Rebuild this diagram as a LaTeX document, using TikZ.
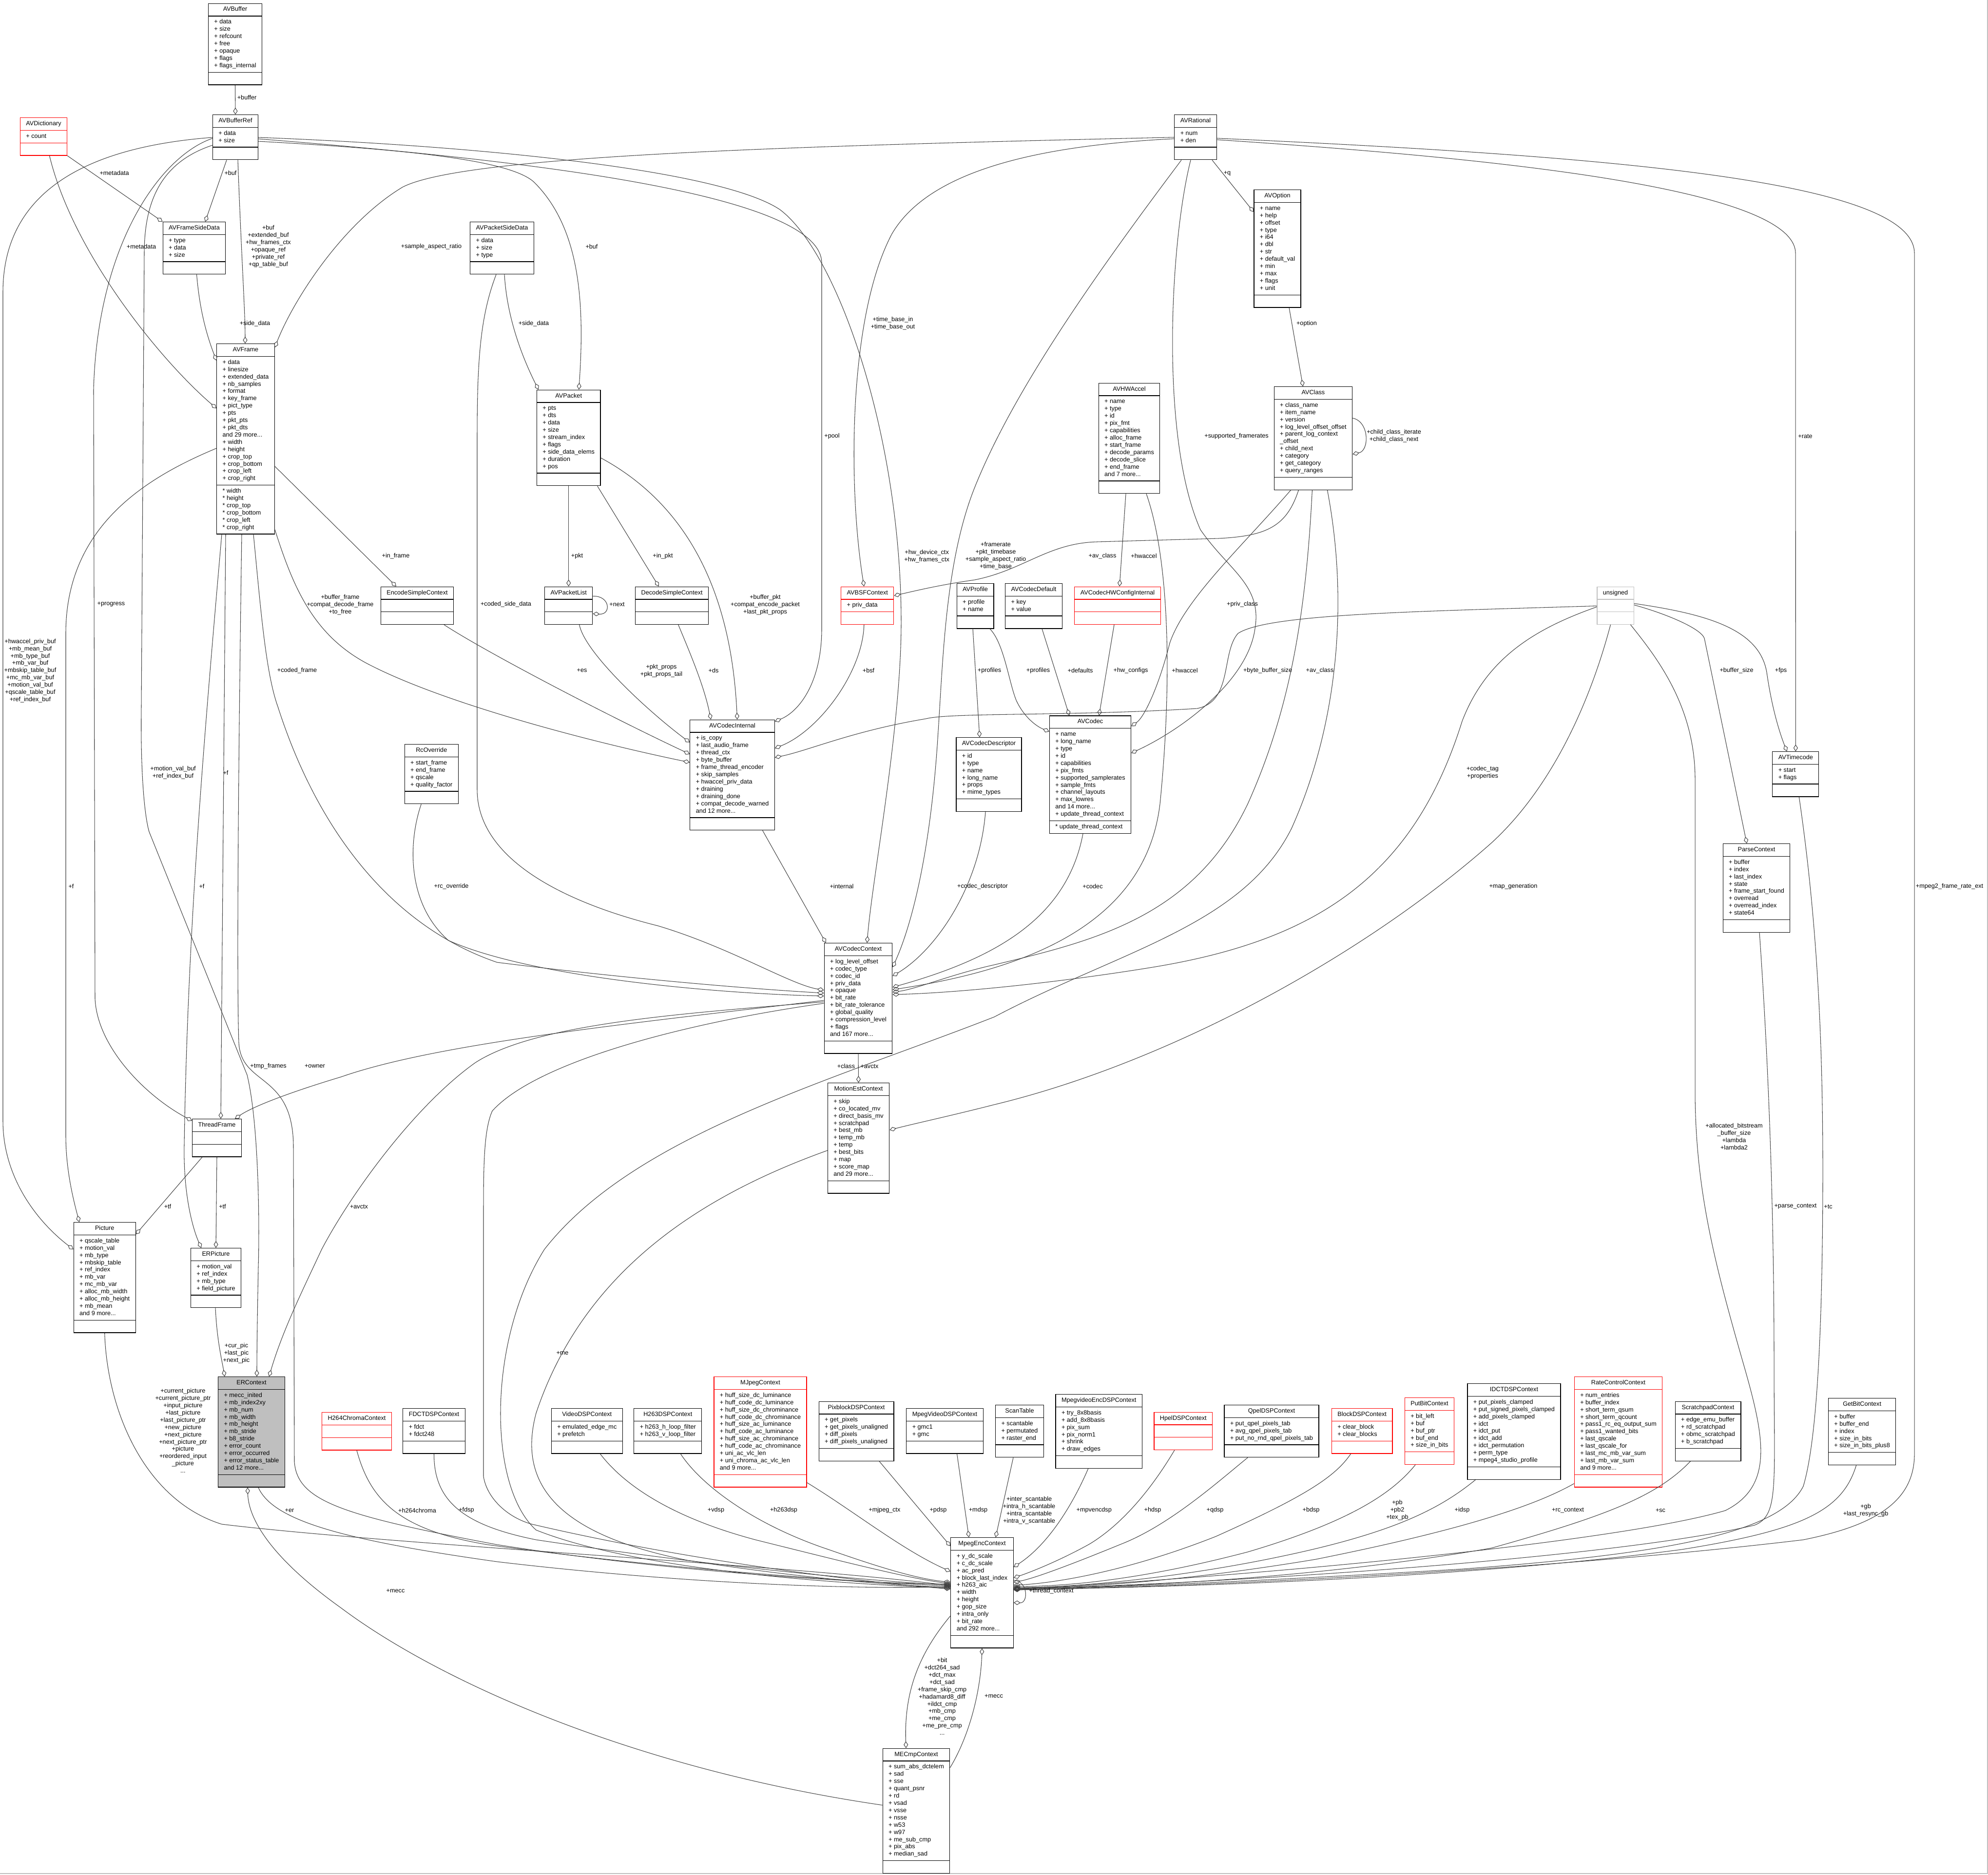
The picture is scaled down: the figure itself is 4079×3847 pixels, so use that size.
\documentclass[tikz,border=0pt]{standalone}
\usepackage{fontspec}
\setmainfont{Liberation Sans}
\usetikzlibrary{shapes.multipart,arrows.meta}
\definecolor{edgegray}{HTML}{404040}
\definecolor{boxgray}{HTML}{BFBFBF}
\newcommand{\dxfont}{\fontsize{3.6}{4.24}\selectfont}
\newcommand{\classbox}[3]{\strut#1\nodepart{two}\strut#2\strut\nodepart{three}\strut#3\strut}

\begin{document}
\begin{tikzpicture}[x=0.01cm, y=-0.01cm,
  cls/.style={rectangle split, rectangle split parts=3, draw=black, line width=0.35pt,
    fill=white, font=\dxfont, align=left, inner xsep=3.4pt, inner ysep=1.37pt,
    rectangle split empty part height=2.97pt, rectangle split empty part depth=1.27pt,
    rectangle split part align={center,left,left}, anchor=north},
  redcls/.style={cls, draw=red},
  link/.style={draw=edgegray, line width=0.3pt, -{Diamond[open,length=4pt,width=2.6pt]}},
  lbl/.style={font=\dxfont, align=center, inner sep=0pt}]
\useasboundingbox (0,0) rectangle (4079,3847);
% Frame
\draw[boxgray] (4078,0) -- (4078,3845) -- (0,3845);

% Classes
\node[cls] (AVBuffer) at (482.5,6.5) {\classbox{AVBuffer}{+ data\\+ size\\+ refcount\\+ free\\+ opaque\\+ flags\\+ flags\_internal}{}};
\node[cls] (AVBufferRef) at (483,235) {\classbox{AVBufferRef}{+ data\\+ size}{}};
\node[redcls] (AVDictionary) at (89.5,241) {\classbox{AVDictionary}{+ count}{}};
\node[cls] (AVFrameSideData) at (398.5,455) {\classbox{AVFrameSideData}{+ type\\+ data\\+ size}{}};
\node[cls] (AVPacketSideData) at (1030,455) {\classbox{AVPacketSideData}{+ data\\+ size\\+ type}{}};
\node[cls] (AVFrame) at (504,705) {\classbox{AVFrame}{+ data\\+ linesize\\+ extended\_data\\+ nb\_samples\\+ format\\+ key\_frame\\+ pict\_type\\+ pts\\+ pkt\_pts\\+ pkt\_dts\\and 29 more...\\+ width\\+ height\\+ crop\_top\\+ crop\_bottom\\+ crop\_left\\+ crop\_right}{* width\\{}* height\\{}* crop\_top\\{}* crop\_bottom\\{}* crop\_left\\{}* crop\_right}};
\node[cls] (AVPacket) at (1166.7,799.6) {\classbox{AVPacket}{+ pts\\+ dts\\+ data\\+ size\\+ stream\_index\\+ flags\\+ side\_data\_elems\\+ duration\\+ pos}{}};
\node[cls] (EncodeSimpleContext) at (856,1203.5) {\classbox{EncodeSimpleContext}{}{}};
\node[cls] (AVPacketList) at (1166.7,1203.5) {\classbox{AVPacketList}{}{}};
\node[cls] (DecodeSimpleContext) at (1378.7,1203.5) {\classbox{DecodeSimpleContext}{}{}};
\node[redcls] (AVBSFContext) at (1779.8,1203.5) {\classbox{AVBSFContext}{+ priv\_data}{}};
\node[cls] (AVProfile) at (2001,1197) {\classbox{AVProfile}{+ profile\\+ name}{}};
\node[cls] (AVCodecDefault) at (2121,1197) {\classbox{AVCodecDefault}{+ key\\+ value}{}};
\node[redcls] (AVCodecHWConfigInternal) at (2293,1203.5) {\classbox{AVCodecHWConfigInternal}{}{}};
\node[cls, draw=boxgray] (Unsigned) at (3314.5,1203.5) {\classbox{unsigned}{}{}};
\node[cls] (AVRational) at (2453,235) {\classbox{AVRational}{+ num\\+ den}{}};
\node[cls] (AVOption) at (2621,389) {\classbox{AVOption}{+ name\\+ help\\+ offset\\+ type\\+ i64\\+ dbl\\+ str\\+ default\_val\\+ min\\+ max\\+ flags\\+ unit}{}};
\node[cls] (AVHWAccel) at (2317,785.7) {\classbox{AVHWAccel}{+ name\\+ type\\+ id\\+ pix\_fmt\\+ capabilities\\+ alloc\_frame\\+ start\_frame\\+ decode\_params\\+ decode\_slice\\+ end\_frame\\and 7 more...}{}};
\node[cls] (AVClass) at (2694.4,793) {\classbox{AVClass}{+ class\_name\\+ item\_name\\+ version\\+ log\_level\_offset\_offset\\+ parent\_log\_context\\\_offset\\+ child\_next\\+ category\\+ get\_category\\+ query\_ranges}{}};
\node[cls] (AVCodecInternal) at (1502.6,1476.6) {\classbox{AVCodecInternal}{+ is\_copy\\+ last\_audio\_frame\\+ thread\_ctx\\+ byte\_buffer\\+ frame\_thread\_encoder\\+ skip\_samples\\+ hwaccel\_priv\_data\\+ draining\\+ draining\_done\\+ compat\_decode\_warned\\and 12 more...}{}};
\node[cls] (AVCodecDescriptor) at (2029,1513) {\classbox{AVCodecDescriptor}{+ id\\+ type\\+ name\\+ long\_name\\+ props\\+ mime\_types}{}};
\node[cls] (AVCodec) at (2237,1468.4) {\classbox{AVCodec}{+ name\\+ long\_name\\+ type\\+ id\\+ capabilities\\+ pix\_fmts\\+ supported\_samplerates\\+ sample\_fmts\\+ channel\_layouts\\+ max\_lowres\\and 14 more...\\+ update\_thread\_context}{* update\_thread\_context}};
\node[cls] (RcOverride) at (885.3,1527) {\classbox{RcOverride}{+ start\_frame\\+ end\_frame\\+ qscale\\+ quality\_factor}{}};
\node[cls] (AVTimecode) at (3684.3,1542) {\classbox{AVTimecode}{+ start\\+ flags}{}};
\node[cls] (ParseContext) at (3604,1731) {\classbox{ParseContext}{+ buffer\\+ index\\+ last\_index\\+ state\\+ frame\_start\_found\\+ overread\\+ overread\_index\\+ state64}{}};
\node[cls] (AVCodecContext) at (1761,1935) {\classbox{AVCodecContext}{+ log\_level\_offset\\+ codec\_type\\+ codec\_id\\+ priv\_data\\+ opaque\\+ bit\_rate\\+ bit\_rate\_tolerance\\+ global\_quality\\+ compression\_level\\+ flags\\and 167 more...}{}};
\node[cls] (MotionEstContext) at (1761.5,2222) {\classbox{MotionEstContext}{+ skip\\+ co\_located\_mv\\+ direct\_basis\_mv\\+ scratchpad\\+ best\_mb\\+ temp\_mb\\+ temp\\+ best\_bits\\+ map\\+ score\_map\\and 29 more...}{}};
\node[cls] (ThreadFrame) at (445,2296) {\classbox{ThreadFrame}{}{}};
\node[cls] (Picture) at (214.7,2508) {\classbox{Picture}{+ qscale\_table\\+ motion\_val\\+ mb\_type\\+ mbskip\_table\\+ ref\_index\\+ mb\_var\\+ mc\_mb\_var\\+ alloc\_mb\_width\\+ alloc\_mb\_height\\+ mb\_mean\\and 9 more...}{}};
\node[cls] (ERPicture) at (443,2561) {\classbox{ERPicture}{+ motion\_val\\+ ref\_index\\+ mb\_type\\+ field\_picture}{}};
\node[cls, fill=boxgray] (ERContext) at (516,2825) {\classbox{ERContext}{+ mecc\_inited\\+ mb\_index2xy\\+ mb\_num\\+ mb\_width\\+ mb\_height\\+ mb\_stride\\+ b8\_stride\\+ error\_count\\+ error\_occurred\\+ error\_status\_table\\and 12 more...}{}};
\node[redcls] (H264ChromaContext) at (732,2898) {\classbox{H264ChromaContext}{}{}};
\node[cls] (FDCTDSPContext) at (890.5,2890) {\classbox{FDCTDSPContext}{+ fdct\\+ fdct248}{}};
\node[cls] (VideoDSPContext) at (1204.3,2890) {\classbox{VideoDSPContext}{+ emulated\_edge\_mc\\+ prefetch}{}};
\node[cls] (H263DSPContext) at (1370.3,2890) {\classbox{H263DSPContext}{+ h263\_h\_loop\_filter\\+ h263\_v\_loop\_filter}{}};
\node[redcls] (MJpegContext) at (1560,2825) {\classbox{MJpegContext}{+ huff\_size\_dc\_luminance\\+ huff\_code\_dc\_luminance\\+ huff\_size\_dc\_chrominance\\+ huff\_code\_dc\_chrominance\\+ huff\_size\_ac\_luminance\\+ huff\_code\_ac\_luminance\\+ huff\_size\_ac\_chrominance\\+ huff\_code\_ac\_chrominance\\+ uni\_ac\_vlc\_len\\+ uni\_chroma\_ac\_vlc\_len\\and 9 more...}{}};
\node[cls] (PixblockDSPContext) at (1757,2875.5) {\classbox{PixblockDSPContext}{+ get\_pixels\\+ get\_pixels\_unaligned\\+ diff\_pixels\\+ diff\_pixels\_unaligned}{}};
\node[cls] (MpegVideoDSPContext) at (1938.5,2890) {\classbox{MpegVideoDSPContext}{+ gmc1\\+ gmc}{}};
\node[cls] (MpegEncContext) at (2015,3155) {\classbox{MpegEncContext}{+ y\_dc\_scale\\+ c\_dc\_scale\\+ ac\_pred\\+ block\_last\_index\\+ h263\_aic\\+ width\\+ height\\+ gop\_size\\+ intra\_only\\+ bit\_rate\\and 292 more...}{}};
\node[cls] (ScanTable) at (2092,2883) {\classbox{ScanTable}{+ scantable\\+ permutated\\+ raster\_end}{}};
\node[cls] (MpegvideoEncDSPContext) at (2254.7,2861) {\classbox{MpegvideoEncDSPContext}{+ try\_8x8basis\\+ add\_8x8basis\\+ pix\_sum\\+ pix\_norm1\\+ shrink\\+ draw\_edges}{}};
\node[redcls] (HpelDSPContext) at (2427.8,2897.6) {\classbox{HpelDSPContext}{}{}};
\node[cls] (QpelDSPContext) at (2609,2883) {\classbox{QpelDSPContext}{+ put\_qpel\_pixels\_tab\\+ avg\_qpel\_pixels\_tab\\+ put\_no\_rnd\_qpel\_pixels\_tab}{}};
\node[redcls] (BlockDSPContext) at (2794.6,2890) {\classbox{BlockDSPContext}{+ clear\_block\\+ clear\_blocks}{}};
\node[redcls] (PutBitContext) at (2933,2868) {\classbox{PutBitContext}{+ bit\_left\\+ buf\\+ buf\_ptr\\+ buf\_end\\+ size\_in\_bits}{}};
\node[cls] (IDCTDSPContext) at (3106.4,2839) {\classbox{IDCTDSPContext}{+ put\_pixels\_clamped\\+ put\_signed\_pixels\_clamped\\+ add\_pixels\_clamped\\+ idct\\+ idct\_put\\+ idct\_add\\+ idct\_permutation\\+ perm\_type\\+ mpeg4\_studio\_profile}{}};
\node[redcls] (RateControlContext) at (3320.5,2825) {\classbox{RateControlContext}{+ num\_entries\\+ buffer\_index\\+ short\_term\_qsum\\+ short\_term\_qcount\\+ pass1\_rc\_eq\_output\_sum\\+ pass1\_wanted\_bits\\+ last\_qscale\\+ last\_qscale\_for\\+ last\_mc\_mb\_var\_sum\\+ last\_mb\_var\_sum\\and 9 more...}{}};
\node[cls] (ScratchpadContext) at (3504.5,2875.5) {\classbox{ScratchpadContext}{+ edge\_emu\_buffer\\+ rd\_scratchpad\\+ obmc\_scratchpad\\+ b\_scratchpad}{}};
\node[cls] (GetBitContext) at (3820.6,2869) {\classbox{GetBitContext}{+ buffer\\+ buffer\_end\\+ index\\+ size\_in\_bits\\+ size\_in\_bits\_plus8}{}};
\node[cls] (MECmpContext) at (1880,3587.6) {\classbox{MECmpContext}{+ sum\_abs\_dctelem\\+ sad\\+ sse\\+ quant\_psnr\\+ rd\\+ vsad\\+ vsse\\+ nsse\\+ w53\\+ w97\\+ me\_sub\_cmp\\+ pix\_abs\\+ median\_sad}{}};

% Top part
\draw[link] (AVBuffer.south) -- (AVBufferRef.north);
\draw[link] ([shift={(-18,0)}]AVBufferRef.south) -- ([shift={(22.5,0)}]AVFrameSideData.north);
\draw[link] ([shift={(5,0)}]AVBufferRef.south) .. controls (495,520) and (503,640) .. ([shift={(-1,0)}]AVFrame.north);
\draw[link] (AVDictionary.south east) -- (AVFrameSideData.north west);
\draw[link] ([shift={(12,0)}]AVDictionary.south) .. controls (150,520) and (330,740) .. ([shift={(0,133)}]AVFrame.north west);
\draw[link] ([shift={(5,0)}]AVFrameSideData.south) .. controls (410,640) and (425,690) .. ([shift={(0,35)}]AVFrame.north west);
\draw[link] (AVRational.west) .. controls (1600,300) and (950,320) .. (826,384) .. controls (700,460) and (600,620) .. ([shift={(0,8)}]AVFrame.north east);
\draw[link] ([shift={(0,55)}]AVBufferRef.north east) .. controls (800,305) and (1050,325) .. (1098,376) .. controls (1190,470) and (1200,620) .. ([shift={(21,0)}]AVPacket.north);
\draw[link] ([shift={(5,0)}]AVPacketSideData.south) .. controls (1040,650) and (1070,730) .. ([shift={(4,0)}]AVPacket.north west);
\draw[link] (AVPacket.south) -- (AVPacketList.north);
\draw[link] ([shift={(0,20)}]AVPacketList.north east) .. controls (1252,1222) and (1255,1262) .. ([shift={(0,56)}]AVPacketList.north east);
\draw[link] ([shift={(59,0)}]AVPacket.south) -- ([shift={(-27,0)}]DecodeSimpleContext.north);

% AVCodecInternal
\draw[link] ([shift={(0,140)}]AVPacket.north east) .. controls (1400,1030) and (1500,1200) .. ([shift={(10,0)}]AVCodecInternal.north);
\draw[link] ([shift={(13,0)}]DecodeSimpleContext.south) .. controls (1420,1350) and (1445,1410) .. ([shift={(-44,0)}]AVCodecInternal.north);
\draw[link] ([shift={(22,0)}]AVPacketList.south) .. controls (1200,1340) and (1330,1460) .. ([shift={(0,47)}]AVCodecInternal.north west);
\draw[link] ([shift={(55,0)}]EncodeSimpleContext.south) .. controls (1000,1340) and (1250,1470) .. ([shift={(0,71)}]AVCodecInternal.north west);
\draw[link] ([shift={(0,-10)}]AVFrame.south east) .. controls (600,1200) and (640,1300) .. (750,1360) .. controls (900,1440) and (1200,1520) .. ([shift={(0,88)}]AVCodecInternal.north west);
\draw[link] ([shift={(0,252)}]AVFrame.north east) -- ([shift={(-43,0)}]EncodeSimpleContext.north);
\draw[link] ([shift={(0,50)}]AVBufferRef.north east) .. controls (1100,330) and (1686,400) .. (1686,540) -- (1686,1290) .. controls (1686,1400) and (1640,1460) .. ([shift={(0,4)}]AVCodecInternal.north east);
\draw[link] ([shift={(-7,0)}]AVBSFContext.south) .. controls (1770,1380) and (1680,1500) .. ([shift={(0,59)}]AVCodecInternal.north east);
\draw[link] ([shift={(0,40)}]Unsigned.north west) .. controls (2900,1255) and (2600,1260) .. (2540,1300) .. controls (2505,1340) and (2530,1440) .. (2456,1454) .. controls (2200,1470) and (1950,1462) .. (1900,1475) .. controls (1750,1500) and (1660,1540) .. ([shift={(0,78)}]AVCodecInternal.north east);

% AVBSFContext
\draw[link] ([shift={(0,3)}]AVRational.west) .. controls (2100,300) and (1900,360) .. (1830,480) .. controls (1740,650) and (1740,1000) .. ([shift={(-7,0)}]AVBSFContext.north);
\draw[link] ([shift={(-30,0)}]AVClass.south) .. controls (2640,1080) and (2600,1100) .. (2500,1105) -- (2250,1112) .. controls (2150,1115) and (2100,1170) .. (2000,1190) .. controls (1930,1200) and (1880,1212) .. ([shift={(0,19)}]AVBSFContext.north east);

% AVCodecContext
\draw[link] ([shift={(0,47)}]AVBufferRef.north east) .. controls (1000,300) and (1480,350) .. (1600,430) .. controls (1720,520) and (1850,900) .. (1849,1282) .. controls (1848,1500) and (1790,1800) .. ([shift={(18,0)}]AVCodecContext.north);
\draw[link] ([shift={(62,0)}]AVCodecInternal.south) -- ([shift={(4,0)}]AVCodecContext.north west);
\draw[link] ([shift={(-12,0)}]AVPacketSideData.south) .. controls (985,650) and (979,740) .. (979,900) -- (979,1620) .. controls (979,1760) and (1150,1850) .. (1350,1900) .. controls (1500,1945) and (1620,2020) .. ([shift={(0,97)}]AVCodecContext.north west);
\draw[link] ([shift={(16,0)}]AVFrame.south) .. controls (535,1250) and (545,1380) .. (570,1450) .. controls (650,1700) and (800,1900) .. (1020,1975) .. controls (1300,2010) and (1550,2030) .. ([shift={(0,103)}]AVCodecContext.north west);
\draw[link] ([shift={(-21,0)}]RcOverride.south) .. controls (840,1720) and (830,1850) .. (920,1930) .. controls (1100,2010) and (1500,2040) .. ([shift={(0,109)}]AVCodecContext.north west);
\draw[link] ([shift={(-29,0)}]AVRational.south) .. controls (2250,560) and (2080,800) .. (2000,1000) .. controls (1940,1150) and (1935,1350) .. (1925,1500) .. controls (1910,1750) and (1870,1900) .. ([shift={(0,50)}]AVCodecContext.north east);
\draw[link] ([shift={(-7,0)}]AVCodecDescriptor.south) .. controls (2010,1820) and (1920,1950) .. ([shift={(0,68)}]AVCodecContext.north east);
\draw[link] ([shift={(-15,0)}]AVCodec.south) .. controls (2190,1880) and (2050,1965) .. ([shift={(0,91)}]AVCodecContext.north east);
\draw[link] ([shift={(35,0)}]AVHWAccel.south) .. controls (2400,1150) and (2405,1400) .. (2380,1650) .. controls (2350,1900) and (2100,1990) .. ([shift={(0,96)}]AVCodecContext.north east);
\draw[link] ([shift={(-2,0)}]AVClass.south) .. controls (2680,1250) and (2650,1450) .. (2560,1650) .. controls (2450,1880) and (2250,1930) .. (2040,1980) .. controls (1950,2000) and (1880,2030) .. ([shift={(0,101)}]AVCodecContext.north east);
\draw[link] ([shift={(0,42)}]Unsigned.north west) .. controls (3150,1290) and (3050,1350) .. (3000,1480) .. controls (2900,1800) and (2700,1930) .. (2365,1985) .. controls (2150,2020) and (1950,2038) .. ([shift={(0,106)}]AVCodecContext.north east);

% AVCodec
\draw[link] ([shift={(-5,0)}]AVProfile.south) -- ([shift={(-19,0)}]AVCodecDescriptor.north);
\draw[link] ([shift={(30,0)}]AVProfile.south) .. controls (2060,1320) and (2070,1400) .. (2085,1437) .. controls (2100,1470) and (2125,1490) .. ([shift={(0,33)}]AVCodec.north west);
\draw[link] ([shift={(17,0)}]AVCodecDefault.south) -- ([shift={(-43,0)}]AVCodec.north);
\draw[link] ([shift={(-7,0)}]AVCodecHWConfigInternal.south) -- ([shift={(18,0)}]AVCodec.north);
\draw[link] ([shift={(-46,0)}]AVClass.south) .. controls (2550,1120) and (2430,1230) .. (2400,1320) .. controls (2380,1400) and (2350,1470) .. ([shift={(0,22)}]AVCodec.north east);
\draw[link] ([shift={(-10,0)}]AVRational.south) .. controls (2400,500) and (2380,900) .. (2463,1087) .. controls (2520,1170) and (2590,1200) .. (2575,1290) .. controls (2560,1400) and (2420,1500) .. ([shift={(0,77)}]AVCodec.north east);
\draw[link] ([shift={(-7,0)}]AVHWAccel.south) -- ([shift={(4,0)}]AVCodecHWConfigInternal.north);

% AVOption, AVClass
\draw[link] ([shift={(34,0)}]AVRational.south) -- ([shift={(0,46)}]AVOption.north west);
\draw[link] ([shift={(24,0)}]AVOption.south) -- ([shift={(-21,0)}]AVClass.north);
\draw[link] ([shift={(0,65)}]AVClass.north east) .. controls (2810,865) and (2810,925) .. ([shift={(0,139)}]AVClass.north east);

% AVTimecode, ParseContext
\draw[link] ([shift={(0,5)}]AVRational.east) .. controls (3000,320) and (3684,380) .. (3684,520) -- (AVTimecode.north);
\draw[link] ([shift={(0,35)}]Unsigned.north east) .. controls (3500,1260) and (3610,1290) .. (3625,1380) .. controls (3635,1450) and (3650,1500) .. ([shift={(-18,0)}]AVTimecode.north);
\draw[link] ([shift={(0,38)}]Unsigned.north east) .. controls (3420,1260) and (3490,1290) .. (3497,1310) -- ([shift={(-20,0)}]ParseContext.north);

% MotionEstContext
\draw[link] (AVCodecContext.south) -- (MotionEstContext.north);
\draw[link] ([shift={(-10,0)}]Unsigned.south) .. controls (3260,1450) and (3180,1620) .. (3060,1730) .. controls (2800,1960) and (2400,2180) .. (2040,2267) .. controls (1950,2290) and (1880,2305) .. ([shift={(0,97)}]MotionEstContext.north east);

% Left part
\draw[link] ([shift={(-41,0)}]AVFrame.south) -- ([shift={(8,0)}]ThreadFrame.north);
\draw[link] ([shift={(0,215)}]AVFrame.north west) .. controls (300,980) and (135,1080) .. (135,1300) -- (135,2330) .. controls (135,2400) and (150,2460) .. ([shift={(-52,0)}]Picture.north);
\draw[link] ([shift={(-49,0)}]AVFrame.south) .. controls (420,1500) and (385,1900) .. (378,2350) .. controls (376,2450) and (395,2520) .. ([shift={(-30,0)}]ERPicture.north);
\draw[link] ([shift={(-30,0)}]ThreadFrame.south) -- ([shift={(0,25)}]Picture.north east);
\draw[link] (ThreadFrame.south) -- (ERPicture.north);
\draw[link] ([shift={(0,47)}]AVBufferRef.north west) .. controls (200,300) and (6,380) .. (6,600) -- (6,2300) .. controls (6,2420) and (80,2510) .. ([shift={(0,56)}]Picture.north west);
\draw[link] ([shift={(0,49)}]AVBufferRef.north west) .. controls (330,320) and (200,500) .. (192,800) -- (195,2050) .. controls (200,2150) and (300,2250) .. ([shift={(0,4)}]ThreadFrame.north west);
\draw[link] ([shift={(0,63)}]AVBufferRef.north west) .. controls (340,330) and (296,400) .. (296,520) -- (290,1450) .. controls (288,1600) and (298,1680) .. (306,1707) -- (507,2206) .. controls (530,2300) and (533,2500) .. (530,2600) .. controls (528,2700) and (527,2780) .. ([shift={(11,0)}]ERContext.north);
\draw[link] ([shift={(-1,0)}]ERPicture.south) .. controls (445,2750) and (455,2790) .. ([shift={(-55,0)}]ERContext.north);
\draw[link] ([shift={(0,121)}]AVCodecContext.north west) .. controls (1400,2080) and (1100,2100) .. (975,2181) .. controls (850,2270) and (720,2450) .. (660,2564) .. controls (620,2650) and (580,2730) .. ([shift={(-33,0)}]ERContext.north east);
\draw[link] ([shift={(0,118)}]AVCodecContext.north west) .. controls (1300,2100) and (900,2140) .. (700,2210) .. controls (600,2240) and (520,2270) .. ([shift={(37,0)}]ThreadFrame.north);
\draw[link] ([shift={(0,117)}]MECmpContext.north west) .. controls (1300,3630) and (900,3450) .. (700,3300) .. controls (560,3200) and (510,3120) .. ([shift={(-8,0)}]ERContext.south);

% MpegEncContext, left side
\draw[link] ([shift={(0,124)}]AVCodecContext.north west) .. controls (1400,2100) and (1100,2180) .. (1010,2280) .. controls (992,2320) and (992,2400) .. (992,2500) -- (992,3030) .. controls (1000,3080) and (1050,3120) .. (1100,3130) .. controls (1400,3200) and (1750,3245) .. ([shift={(0,106)}]MpegEncContext.north west);
\draw[link] ([shift={(-8,0)}]AVFrame.south) .. controls (490,1500) and (485,2000) .. (490,2140) .. controls (495,2230) and (600,2200) .. (602,2350) -- (604,3000) .. controls (610,3080) and (700,3110) .. (1020,3170) .. controls (1400,3230) and (1800,3250) .. ([shift={(0,96)}]MpegEncContext.north west);
\draw[link] (Picture.south) .. controls (220,2900) and (300,3080) .. (455,3128) .. controls (800,3170) and (1600,3210) .. ([shift={(0,99)}]MpegEncContext.north west);
\draw[link] ([shift={(14,0)}]ERContext.south) .. controls (560,3120) and (700,3160) .. (1020,3205) .. controls (1400,3250) and (1750,3262) .. ([shift={(0,101)}]MpegEncContext.north west);
\draw[link] (H264ChromaContext.south) .. controls (760,3080) and (820,3140) .. (1000,3170) .. controls (1400,3225) and (1800,3248) .. ([shift={(0,100)}]MpegEncContext.north west);
\draw[link] (FDCTDSPContext.south) .. controls (890,3080) and (950,3130) .. (1100,3160) .. controls (1500,3220) and (1800,3245) .. ([shift={(0,98)}]MpegEncContext.north west);
\draw[link] ([shift={(27,0)}]VideoDSPContext.south) .. controls (1290,3060) and (1400,3120) .. (1550,3160) .. controls (1750,3210) and (1870,3240) .. ([shift={(0,95)}]MpegEncContext.north west);
\draw[link] ([shift={(26,0)}]H263DSPContext.south) .. controls (1440,3050) and (1550,3130) .. (1700,3180) .. controls (1800,3215) and (1880,3240) .. ([shift={(0,92)}]MpegEncContext.north west);
\draw[link] ([shift={(0,-10)}]MJpegContext.south east) .. controls (1750,3100) and (1850,3180) .. ([shift={(0,70)}]MpegEncContext.north west);
\draw[link] ([shift={(47,0)}]PixblockDSPContext.south) -- ([shift={(0,18)}]MpegEncContext.north west);
\draw[link] ([shift={(25,0)}]MpegVideoDSPContext.south) -- ([shift={(-27,0)}]MpegEncContext.north);
\draw[link] ([shift={(0,139)}]MotionEstContext.north west) .. controls (1450,2450) and (1200,2600) .. (1100,2900) .. controls (1060,3050) and (1150,3150) .. (1410,3202) .. controls (1650,3240) and (1850,3255) .. ([shift={(0,102)}]MpegEncContext.north west);
\draw[link] ([shift={(29,0)}]AVClass.south) .. controls (2770,1250) and (2740,1500) .. (2650,1700) .. controls (2550,1900) and (2300,1950) .. (2040,2087) .. controls (1700,2220) and (1300,2330) .. (1117,2564) .. controls (1000,2750) and (1000,3050) .. (1100,3140) .. controls (1300,3220) and (1700,3250) .. ([shift={(0,104)}]MpegEncContext.north west);

% MpegEncContext, right side
\draw[link] ([shift={(-13,0)}]ScanTable.south) -- ([shift={(-37,0)}]MpegEncContext.north east);
\draw[link] ([shift={(-22,0)}]MpegvideoEncDSPContext.south) .. controls (2200,3090) and (2150,3170) .. ([shift={(0,61)}]MpegEncContext.north east);
\draw[link] ([shift={(-18,0)}]HpelDSPContext.south) .. controls (2360,3060) and (2300,3130) .. (2235,3169) .. controls (2170,3205) and (2110,3228) .. ([shift={(0,83)}]MpegEncContext.north east);
\draw[link] ([shift={(-49,0)}]QpelDSPContext.south) .. controls (2500,3040) and (2400,3130) .. (2300,3169) .. controls (2200,3210) and (2120,3240) .. ([shift={(0,92)}]MpegEncContext.north east);
\draw[link] ([shift={(-23,0)}]BlockDSPContext.south) .. controls (2740,3030) and (2680,3070) .. (2495,3153) .. controls (2300,3230) and (2150,3250) .. ([shift={(0,98)}]MpegEncContext.north east);
\draw[link] ([shift={(-29,0)}]PutBitContext.south) .. controls (2860,3060) and (2780,3120) .. (2560,3185) .. controls (2350,3240) and (2200,3255) .. ([shift={(0,101)}]MpegEncContext.north east);
\draw[link] ([shift={(-79,0)}]IDCTDSPContext.south) .. controls (2950,3100) and (2850,3150) .. (2600,3200) .. controls (2400,3240) and (2200,3258) .. ([shift={(0,103)}]MpegEncContext.north east);
\draw[link] ([shift={(0,-8)}]RateControlContext.south west) .. controls (3150,3090) and (3000,3140) .. (2700,3200) .. controls (2400,3250) and (2200,3258) .. ([shift={(0,104)}]MpegEncContext.north east);
\draw[link] ([shift={(-36,0)}]ScratchpadContext.south) .. controls (3400,3070) and (3300,3110) .. (3060,3177) .. controls (2700,3240) and (2300,3258) .. ([shift={(0,105)}]MpegEncContext.north east);
\draw[link] ([shift={(31,0)}]Unsigned.south) .. controls (3400,1350) and (3478,1450) .. (3478,1600) -- (3478,2250) .. controls (3480,2450) and (3520,2600) .. (3580,2809) .. controls (3620,2950) and (3640,3050) .. (3540,3100) .. controls (3300,3170) and (2500,3240) .. ([shift={(0,106)}]MpegEncContext.north east);
\draw[link] ([shift={(6,0)}]ParseContext.south) .. controls (3630,2200) and (3640,2500) .. (3640,2800) .. controls (3640,3050) and (3650,3110) .. (3600,3130) .. controls (3300,3200) and (2500,3250) .. ([shift={(0,106)}]MpegEncContext.north east);
\draw[link] ([shift={(7,0)}]AVTimecode.south) .. controls (3730,1900) and (3740,2150) .. (3740,2400) .. controls (3740,2700) and (3730,2950) .. (3700,3050) .. controls (3650,3150) and (3400,3190) .. (3000,3220) .. controls (2500,3250) and (2200,3260) .. ([shift={(0,107)}]MpegEncContext.north east);
\draw[link] ([shift={(-12,0)}]GetBitContext.south) .. controls (3780,3100) and (3700,3140) .. (3450,3180) .. controls (3000,3240) and (2400,3258) .. ([shift={(0,107)}]MpegEncContext.north east);
\draw[link] ([shift={(0,2)}]AVRational.east) .. controls (3300,320) and (3928,370) .. (3928,520) -- (3928,2980) .. controls (3930,3080) and (3850,3130) .. (3700,3160) .. controls (3200,3220) and (2500,3255) .. ([shift={(0,108)}]MpegEncContext.north east);
\draw[link] ([shift={(0,88)}]MpegEncContext.north east) .. controls (2110,3245) and (2110,3290) .. ([shift={(0,134)}]MpegEncContext.north east);

% MECmpContext
\draw[link] ([shift={(0,40)}]MECmpContext.north east) .. controls (1990,3560) and (2012,3470) .. (MpegEncContext.south);
\draw[link] ([shift={(0,161)}]MpegEncContext.north west) .. controls (1880,3400) and (1855,3480) .. ([shift={(-21,0)}]MECmpContext.north);

% Labels
\node[lbl] (tbuffer) at (506.6,200) {+buffer};
\node[lbl] (tmeta1) at (234.6,355) {+metadata};
\node[lbl] (tbuf1) at (473,355) {+buf};
\node[lbl] (tmeta2) at (290,506) {+metadata};
\node[lbl] (tbuf2) at (550.5,505.5) {+buf\\+extended\_buf\\+hw\_frames\_ctx\\+opaque\_ref\\+private\_ref\\+qp\_table\_buf};
\node[lbl] (tsar) at (885,506) {+sample\_aspect\_ratio};
\node[lbl] (tside1) at (523,664) {+side\_data};
\node[lbl] (tinframe) at (812,1141) {+in\_frame};
\node[lbl] (tbufframe) at (698,1241) {+buffer\_frame\\+compat\_decode\_frame\\+to\_free};
\node[lbl] (tprogress) at (228,1240) {+progress};
\node[lbl] (tcodedside) at (1038,1240) {+coded\_side\_data};
\node[lbl] (tside2) at (1095,664) {+side\_data};
\node[lbl] (tbuf3) at (1214,506) {+buf};
\node[lbl] (tpool) at (1707,895) {+pool};
\node[lbl] (ttimebase) at (1832,663.5) {+time\_base\_in\\+time\_base\_out};
\node[lbl] (tpkt) at (1184,1141) {+pkt};
\node[lbl] (tinpkt) at (1360,1141) {+in\_pkt};
\node[lbl] (tnext) at (1266,1240) {+next};
\node[lbl] (tbufpkt) at (1570,1241) {+buffer\_pkt\\+compat\_encode\_packet\\+last\_pkt\_props};
\node[lbl] (thwdev) at (1901.6,1141.5) {+hw\_device\_ctx\\+hw\_frames\_ctx};
\node[lbl] (tframerate) at (2043,1141) {+framerate\\+pkt\_timebase\\+sample\_aspect\_ratio\\+time\_base};
\node[lbl] (tq) at (2518,356) {+q};
\node[lbl] (toption) at (2681,664) {+option};
\node[lbl] (tsuppfr) at (2537,895) {+supported\_framerates};
\node[lbl] (tchild) at (2860,895) {+child\_class\_iterate\\+child\_class\_next};
\node[lbl] (tavclass1) at (2262,1141) {+av\_class};
\node[lbl] (thwaccel1) at (2347,1141) {+hwaccel};
\node[lbl] (tprivclass) at (2549,1240) {+priv\_class};
\node[lbl] (trate) at (3704,895) {+rate};
\node[lbl] (tpicbufs) at (62,1376.5) {+hwaccel\_priv\_buf\\+mb\_mean\_buf\\+mb\_type\_buf\\+mb\_var\_buf\\+mbskip\_table\_buf\\+mc\_mb\_var\_buf\\+motion\_val\_buf\\+qscale\_table\_buf\\+ref\_index\_buf};
\node[lbl] (tcodedframe) at (609.6,1376) {+coded\_frame};
\node[lbl] (tmvbuf) at (355,1585.5) {+motion\_val\_buf\\+ref\_index\_buf};
\node[lbl] (tf1) at (463,1586) {+f};
\node[lbl] (tf2) at (146,1819) {+f};
\node[lbl] (tf3) at (414,1819) {+f};
\node[lbl] (trcover) at (926,1819) {+rc\_override};
\node[lbl] (ttmp) at (550.6,2188) {+tmp\_frames};
\node[lbl] (towner) at (646,2188) {+owner};
\node[lbl] (ttf1) at (344,2476) {+tf};
\node[lbl] (ttf2) at (456.5,2476) {+tf};
\node[lbl] (tavctx1) at (736.5,2476) {+avctx};
\node[lbl] (tes) at (1194,1376) {+es};
\node[lbl] (tpktprops) at (1357,1377) {+pkt\_props\\+pkt\_props\_tail};
\node[lbl] (tds) at (1464,1376) {+ds};
\node[lbl] (tbsf) at (1782,1376) {+bsf};
\node[lbl] (tprofiles1) at (2030,1376) {+profiles};
\node[lbl] (tinternal) at (1727,1819) {+internal};
\node[lbl] (tcodecdesc) at (2016,1819) {+codec\_descriptor};
\node[lbl] (tclass) at (1736,2188) {+class};
\node[lbl] (tavctx2) at (1784,2188) {+avctx};
\node[lbl] (tprofiles2) at (2130,1376) {+profiles};
\node[lbl] (tdefaults) at (2216.5,1376) {+defaults};
\node[lbl] (thwconfigs) at (2320,1376) {+hw\_configs};
\node[lbl] (thwaccel2) at (2431,1376) {+hwaccel};
\node[lbl] (tbytebuf) at (2601,1376) {+byte\_buffer\_size};
\node[lbl] (tavclass2) at (2708,1376) {+av\_class};
\node[lbl] (tcodec) at (2242,1819) {+codec};
\node[lbl] (tcodectag) at (3042,1585.5) {+codec\_tag\\+properties};
\node[lbl] (tbufsize) at (3563,1376) {+buffer\_size};
\node[lbl] (tfps) at (3654,1376) {+fps};
\node[lbl] (tmapgen) at (3105,1819) {+map\_generation};
\node[lbl] (tmpeg2) at (4000,1819) {+mpeg2\_frame\_rate\_ext};
\node[lbl] (talloc) at (3558,2332.5) {+allocated\_bitstream\\\_buffer\_size\\+lambda\\+lambda2};
\node[lbl] (tparse) at (3684,2476) {+parse\_context};
\node[lbl] (ttc) at (3751,2476) {+tc};
\node[lbl] (tcurpic) at (485,2777) {+cur\_pic\\+last\_pic\\+next\_pic};
\node[lbl] (tpictures) at (375.4,2936) {+current\_picture\\+current\_picture\_ptr\\+input\_picture\\+last\_picture\\+last\_picture\_ptr\\+new\_picture\\+next\_picture\\+next\_picture\_ptr\\+picture\\+reordered\_input\\\_picture\\...};
\node[lbl] (ter) at (594,3099.5) {+er};
\node[lbl] (th264) at (856,3099.5) {+h264chroma};
\node[lbl] (tfdsp) at (957,3099.5) {+fdsp};
\node[lbl] (tmecc1) at (811.5,3265) {+mecc};
\node[lbl] (tme) at (1154,2776.6) {+me};
\node[lbl] (tvdsp) at (1469,3099.5) {+vdsp};
\node[lbl] (th263) at (1608,3099.5) {+h263dsp};
\node[lbl] (tmjpeg) at (1815,3099.5) {+mjpeg\_ctx};
\node[lbl] (tpdsp) at (1925,3099.5) {+pdsp};
\node[lbl] (tmdsp) at (2007,3099.5) {+mdsp};
\node[lbl] (tcmp) at (1933,3481.5) {+bit\\+dct264\_sad\\+dct\_max\\+dct\_sad\\+frame\_skip\_cmp\\+hadamard8\_diff\\+ildct\_cmp\\+mb\_cmp\\+me\_cmp\\+me\_pre\_cmp\\...};
\node[lbl] (tmecc2) at (2039,3481) {+mecc};
\node[lbl] (tscan) at (2111.6,3099.5) {+inter\_scantable\\+intra\_h\_scantable\\+intra\_scantable\\+intra\_v\_scantable};
\node[lbl] (tmpvenc) at (2244.7,3099.5) {+mpvencdsp};
\node[lbl] (thdsp) at (2365,3099.5) {+hdsp};
\node[lbl] (tqdsp) at (2493,3099.5) {+qdsp};
\node[lbl] (tbdsp) at (2690,3099.5) {+bdsp};
\node[lbl] (tpb) at (2867,3099.5) {+pb\\+pb2\\+tex\_pb};
\node[lbl] (tidsp) at (3000,3099.5) {+idsp};
\node[lbl] (tthread) at (2157,3265) {+thread\_context};
\node[lbl] (trc) at (3217,3099.5) {+rc\_context};
\node[lbl] (tsc) at (3407,3099.5) {+sc};
\node[lbl] (tgb) at (3828,3099.5) {+gb\\+last\_resync\_gb};
\end{tikzpicture}
\end{document}
